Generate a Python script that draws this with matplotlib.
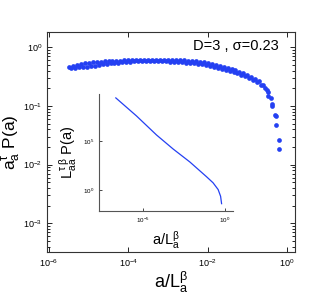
import numpy as np
import matplotlib
matplotlib.use("Agg")
import matplotlib.pyplot as plt
from matplotlib.ticker import LogLocator, NullLocator, NullFormatter

plt.rcParams['font.family'] = ['Liberation Sans', 'DejaVu Sans']
plt.rcParams['mathtext.fontset'] = 'custom'
plt.rcParams['mathtext.rm'] = 'Liberation Sans'
plt.rcParams['mathtext.it'] = 'Liberation Sans'
plt.rcParams['mathtext.default'] = 'regular'

# ---- main data (log10 x, log10 y), two overlapping system sizes ----
logx_A = [-5.5, -5.4, -5.3, -5.2, -5.1, -5.0, -4.9, -4.8, -4.7, -4.6, -4.5, -4.4, -4.3,
          -4.2, -4.1, -4.0, -3.9, -3.8, -3.7, -3.6, -3.5, -3.4, -3.3, -3.2, -3.1, -3.0,
          -2.9, -2.8, -2.7, -2.6, -2.5, -2.4, -2.3, -2.2, -2.1, -2.0, -1.9, -1.8, -1.7,
          -1.6, -1.5, -1.4, -1.3, -1.2, -1.1, -1.0, -0.9, -0.8, -0.7, -0.6, -0.5]
logy_A = [-0.33, -0.31, -0.30, -0.285, -0.27, -0.26, -0.255, -0.25, -0.245, -0.24, -0.235,
          -0.232, -0.228, -0.225, -0.222, -0.22, -0.218, -0.216, -0.214, -0.212, -0.21,
          -0.21, -0.21, -0.21, -0.21, -0.212, -0.214, -0.216, -0.219, -0.222, -0.226,
          -0.232, -0.24, -0.248, -0.258, -0.27, -0.285, -0.30, -0.318, -0.335, -0.355,
          -0.375, -0.395, -0.42, -0.445, -0.47, -0.50, -0.535, -0.58, -0.635, -0.72]
logx_B = [-5.45, -5.35, -5.25, -5.15, -5.05, -4.95, -4.85, -4.75, -4.65, -4.55, -4.45,
          -4.35, -4.25, -4.15, -4.05, -3.95, -3.85, -3.75, -3.65, -3.55, -3.45, -3.35,
          -3.25, -3.15, -3.05, -2.95, -2.85, -2.75, -2.65, -2.55, -2.45, -2.35, -2.25,
          -2.15, -2.05, -1.95, -1.85, -1.75, -1.65, -1.55, -1.45, -1.35, -1.25, -1.15,
          -1.05, -0.95, -0.85, -0.75, -0.65, -0.55]
logy_B = [-0.36, -0.345, -0.34, -0.335, -0.33, -0.32, -0.31, -0.30, -0.29, -0.28, -0.27,
          -0.265, -0.26, -0.255, -0.25, -0.245, -0.24, -0.24, -0.235, -0.235, -0.235,
          -0.235, -0.235, -0.237, -0.24, -0.243, -0.246, -0.25, -0.255, -0.26, -0.266,
          -0.273, -0.282, -0.292, -0.303, -0.316, -0.33, -0.345, -0.362, -0.38, -0.40,
          -0.42, -0.44, -0.465, -0.49, -0.515, -0.55, -0.59, -0.64, -0.70]
logx_tail = [-0.48, -0.47, -0.41, -0.39, -0.38, -0.31, -0.28, -0.28, -0.21, -0.21]
logy_tail = [-0.767, -0.835, -0.87, -0.97, -1.005, -1.16, -1.175, -1.33, -1.585, -1.74]

# ---- inset data (log10 x, log10 y) ----
inset_logx = [-6.63, -5.37, -4.15, -3.13, -2.12, -1.10, -0.70, -0.39, -0.24, -0.18]
inset_logy = [9.40, 7.56, 5.62, 4.18, 2.87, 1.36, 0.74, 0.05, -0.64, -1.39]

label_text = 'D=3 , σ=0.23'
color = '#2440f2'

fig = plt.figure(figsize=(3.32, 2.94), dpi=100)
ax = fig.add_axes([0.1416, 0.1429, 0.747, 0.748])

for lx, ly in ((logx_A, logy_A), (logx_B, logy_B), (logx_tail, logy_tail)):
    ax.plot(10 ** np.array(lx), 10 ** np.array(ly), 'o', color=color, ms=3.4, mec='none')
ax.set_xscale('log')
ax.set_yscale('log')
ax.set_xlim(10 ** -6.05, 10 ** 0.2)
ax.set_ylim(10 ** -3.49, 10 ** 0.26)
ax.set_xticks([1e-6, 1e-4, 1e-2, 1e0])
ax.xaxis.set_minor_locator(NullLocator())
ax.yaxis.set_major_locator(LogLocator(base=10, numticks=10))
ax.yaxis.set_minor_locator(LogLocator(base=10, subs=np.arange(2, 10), numticks=20))
ax.yaxis.set_minor_formatter(NullFormatter())
ax.tick_params(which='both', direction='in', top=True, right=True, labelsize=6.5, width=0.6)
ax.tick_params(which='major', length=3.5)
ax.tick_params(which='minor', length=2)
for s in ax.spines.values():
    s.set_linewidth(0.8)
    s.set_color('#333333')
ax.set_xlabel(r'$a/L^{\beta}_{a}$', fontsize=13, labelpad=1)
ax.set_ylabel(r'$a^{\tau}_{a}\ P(a)$', fontsize=12.5)
ax.yaxis.set_label_coords(-0.097, 0.5)
ax.text(0.935, 0.918, label_text, transform=ax.transAxes, ha='right', va='baseline', fontsize=10.5)

ins = fig.add_axes([0.298, 0.2823, 0.403, 0.398])
ins.plot(10 ** np.array(inset_logx), 10 ** np.array(inset_logy), '-', color=color, lw=0.9)
ins.set_xscale('log')
ins.set_yscale('log')
ins.set_xlim(10 ** -7.66, 10 ** 0.5)
ins.set_ylim(10 ** -2.14, 10 ** 9.8)
ins.set_xticks([1e-5, 1e0])
ins.set_yticks([1e0, 1e5])
ins.xaxis.set_minor_locator(NullLocator())
ins.yaxis.set_minor_locator(NullLocator())
ins.spines['top'].set_visible(False)
ins.spines['right'].set_visible(False)
for s in ['left', 'bottom']:
    ins.spines[s].set_linewidth(0.8)
    ins.spines[s].set_color('#555555')
ins.patch.set_alpha(0)
ins.tick_params(direction='in', length=2, width=0.5, labelsize=4.5)
ins.set_xlabel(r'$a/L^{\beta}_{a}$', fontsize=10.5, labelpad=3)
ins.set_ylabel(r'$L^{\tau}_{a}{}^{\beta}_{a}\ P(a)$', fontsize=10.5, labelpad=3)

fig.savefig('out.png', dpi=100)
